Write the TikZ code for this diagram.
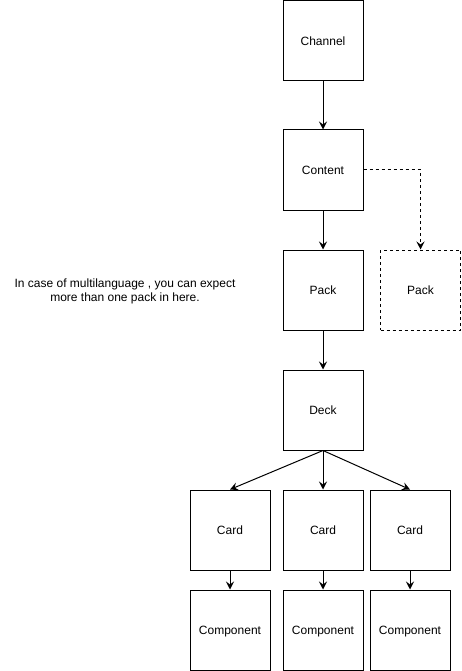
\documentclass[tikz,border=0pt]{standalone}
\usepackage{fontspec}
\setmainfont{Liberation Sans}
\usetikzlibrary{arrows.meta}
\begin{document}
\begin{tikzpicture}[x=1pt,y=-1pt,
  box/.style={draw=black,line width=1pt,minimum width=80pt,minimum height=80pt,inner sep=0pt,text height=8.6pt,text depth=0pt,font=\fontsize{12}{14}\selectfont,fill=white},
  dbox/.style={box,dash pattern=on 3pt off 3pt},
  conn/.style={line width=1pt,-{Stealth[length=8pt,width=8pt,inset=3pt]}},
  dconn/.style={conn,dash pattern=on 3pt off 3pt}]
\useasboundingbox (0,0) rectangle (461,671);
\node[box] (channel) at (323,41) {Channel};
\node[box] (content) at (323,170) {Content};
\node[box] (pack) at (323,290) {Pack};
\node[dbox] (pack2) at (420.5,290) {Pack};
\node[box] (deck) at (323,410) {Deck};
\node[box] (card1) at (230,530) {Card};
\node[box] (card2) at (323,530) {Card};
\node[box] (card3) at (410,530) {Card};
\node[box] (comp1) at (230,630) {Component};
\node[box] (comp2) at (323,630) {Component};
\node[box] (comp3) at (410,630) {Component};
\node[align=center,font=\fontsize{12}{14}\selectfont,inner sep=0pt] (note) at (125,291) {In case of multilanguage , you can expect\\more than one pack in here.};
\draw[conn] (channel) -- (content);
\draw[conn] (content) -- (pack);
\draw[dconn] (content.east) -| (pack2.north);
\draw[conn] (pack) -- (deck);
\draw[conn] (deck.south) -- (card1.north);
\draw[conn] (deck.south) -- (card2.north);
\draw[conn] (deck.south) -- (card3.north);
\draw[conn] (card1) -- (comp1);
\draw[conn] (card2) -- (comp2);
\draw[conn] (card3) -- (comp3);
\end{tikzpicture}
\end{document}
